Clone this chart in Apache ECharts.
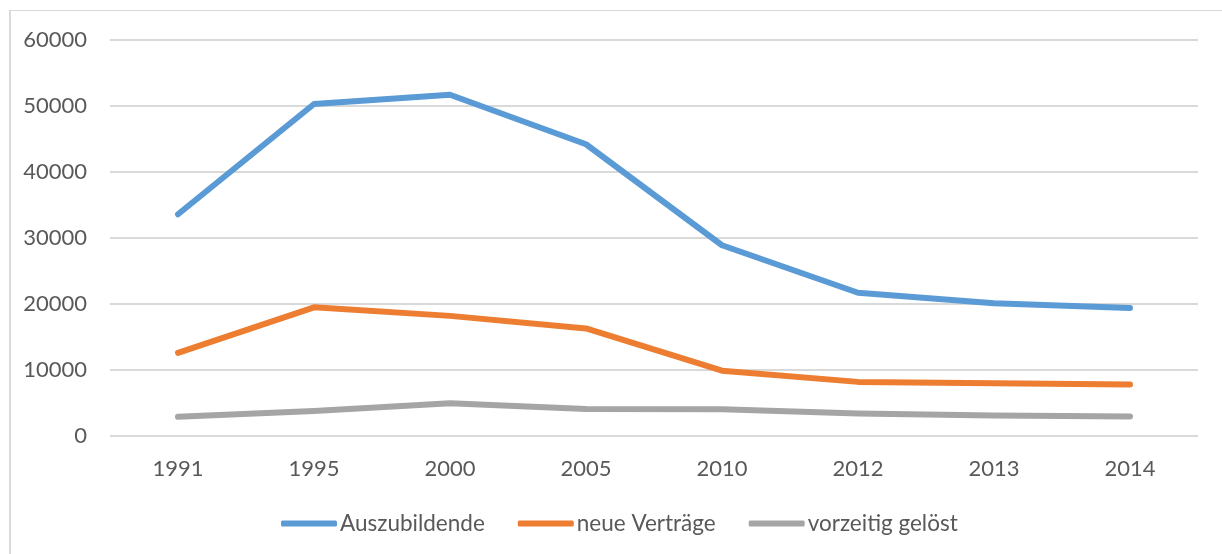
<!DOCTYPE html>
<html>
<head>
<meta charset="utf-8">
<script src="https://cdn.jsdelivr.net/npm/echarts@6/dist/echarts.min.js"></script>
<style>
html,body{margin:0;padding:0;background:#fff;}
#frame{position:absolute;left:9px;top:10px;width:1300px;height:700px;border-top:1px solid #d9d9d9;border-left:2px solid #d9d9d9;}
#chart{position:absolute;left:0;top:0;width:1222px;height:554px;}
</style>
</head>
<body>
<div id="frame"></div>
<div id="chart"></div>
<script>
const categories = ['1991','1995','2000','2005','2010','2012','2013','2014'];
const auszubildende = [33600, 50300, 51700, 44200, 28900, 21700, 20100, 19400];
const neueVertraege = [12600, 19500, 18200, 16300, 9900, 8200, 8000, 7800];
const vorzeitigGeloest = [2900, 3800, 4950, 4100, 4050, 3400, 3100, 2950];
const seriesNames = ['Auszubildende', 'neue Verträge', 'vorzeitig gelöst'];
const colors = ['#5B9BD5', '#ED7D31', '#A5A5A5'];

const chart = echarts.init(document.getElementById('chart'), null, {renderer: 'canvas'});
const textColor = '#595959';
const font = 'Lato';
const mk = (name, data, color) => ({
  name, type: 'line', data, symbol: 'none', color,
  lineStyle: {width: 6, color, cap: 'round', join: 'round'},
  animation: false
});
chart.setOption({
  animation: false,
  backgroundColor: 'transparent',
  grid: {left: 110, right: 24, top: 40, bottom: 118},
  xAxis: {
    type: 'category', data: categories, boundaryGap: true,
    axisLine: {show: false}, axisTick: {show: false},
    axisLabel: {color: textColor, fontFamily: font, fontSize: 22, margin: 22}
  },
  yAxis: {
    type: 'value', min: 0, max: 60000, interval: 10000,
    axisLine: {show: false}, axisTick: {show: false},
    axisLabel: {color: textColor, fontFamily: font, fontSize: 22, margin: 23,
      formatter: v => String(v)},
    splitLine: {lineStyle: {color: '#d9d9d9', width: 2}}
  },
  legend: {
    left: 276, top: 507, itemWidth: 56, itemHeight: 6, itemGap: 33,
    icon: 'roundRect',
    textStyle: {color: textColor, fontFamily: font, fontSize: 22.5, padding: [0, 0, 0, -2]},
    data: seriesNames
  },
  series: [
    mk(seriesNames[0], auszubildende, colors[0]),
    mk(seriesNames[1], neueVertraege, colors[1]),
    mk(seriesNames[2], vorzeitigGeloest, colors[2])
  ]
});
</script>
</body>
</html>
